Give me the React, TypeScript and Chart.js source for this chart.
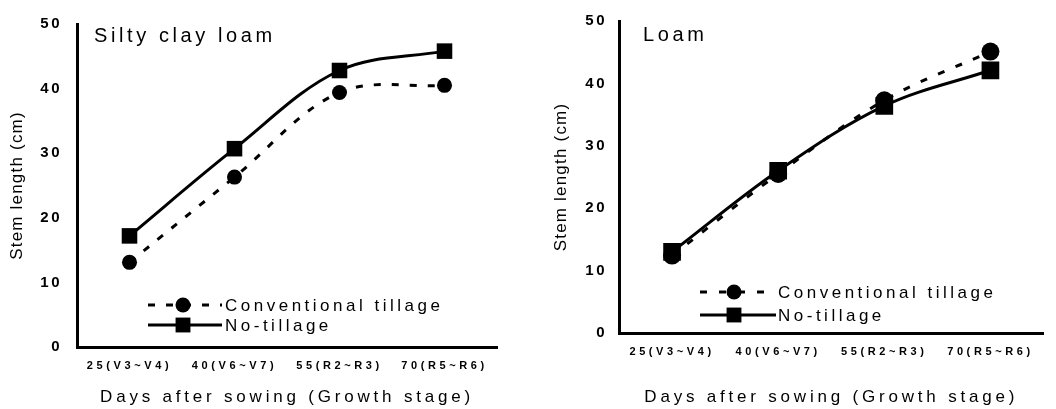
import React, { useEffect, useRef } from 'react';
import { Chart, registerables } from 'chart.js';

Chart.register(...registerables);

// ---------------- data ----------------
const categories = ['25(V3~V4)', '40(V6~V7)', '55(R2~R3)', '70(R5~R6)'];
const seriesNames = ['Conventional tillage', 'No-tillage'];
const siltyConventional = [13.1, 26.3, 39.4, 40.5];
const siltyNoTillage = [17.2, 30.7, 42.8, 45.8];
const loamConventional = [12.4, 25.5, 37.3, 45.1];
const loamNoTillage = [13.0, 26.0, 36.4, 42.1];
const panelTitles = ['Silty clay loam', 'Loam'];
const yMin = 0;
const yMax = 50;
const yStep = 10;
const xTitle = 'Days after sowing (Growth stage)';
const yTitle = 'Stem length (cm)';

const FAMILY = '"Liberation Sans", Arial, sans-serif';

type Panel = {
  title: string;
  conventional: number[];
  noTillage: number[];
  plotLeft: number;
  plotTop: number;
  plotBottom: number;
  padRight: number;
  circleR: number;
  squareR: number;
  dash: number[];
  titleX: number;
  titleY: number;
  legX0: number;
  legX1: number;
  legMark: number;
  legText: number;
  legY: number[];
  yTitlePad: number;
  yTickPad: number;
  xTickPad: number;
};

const panels: Panel[] = [
  {
    title: panelTitles[0],
    conventional: siltyConventional,
    noTillage: siltyNoTillage,
    plotLeft: 77,
    plotTop: 20,
    plotBottom: 347,
    padRight: 31,
    circleR: 7.5,
    squareR: 11,
    dash: [7, 11],
    titleX: 94,
    titleY: 36,
    legX0: 148,
    legX1: 222,
    legMark: 183,
    legText: 225,
    legY: [305, 325],
    yTitlePad: 7,
    yTickPad: 15,
    xTickPad: 12,
  },
  {
    title: panelTitles[1],
    conventional: loamConventional,
    noTillage: loamNoTillage,
    plotLeft: 91,
    plotTop: 15,
    plotBottom: 333,
    padRight: 4,
    circleR: 9,
    squareR: 12.5,
    dash: [7, 12],
    titleX: 115,
    titleY: 35,
    legX0: 172,
    legX1: 248,
    legMark: 206,
    legText: 250,
    legY: [292, 315],
    yTitlePad: 23,
    yTickPad: 12,
    xTickPad: 12,
  },
];

const legendCircleR = 7.5;
const legendSquareR = 10.5;

function patchScale(scale: any, tickSp: string, titleSp: string) {
  if (!scale || scale.__patched) return;
  scale.__patched = true;
  const origLabels = scale.drawLabels;
  scale.drawLabels = function (area: any) {
    const ctx = this.ctx;
    const prev = ctx.letterSpacing;
    ctx.letterSpacing = tickSp;
    origLabels.call(this, area);
    ctx.letterSpacing = prev;
  };
  const origTitle = scale.drawTitle;
  scale.drawTitle = function (area: any) {
    const ctx = this.ctx;
    const prev = ctx.letterSpacing;
    ctx.letterSpacing = titleSp;
    origTitle.call(this, area);
    ctx.letterSpacing = prev;
  };
}

function makeChart(canvas: HTMLCanvasElement, p: Panel) {
  const spacingPlugin = {
    id: 'spacingPatch',
    beforeDraw(chart: any) {
      patchScale(chart.scales.x, '3.6px', '3.8px');
      patchScale(chart.scales.y, '2.5px', '1.2px');
    },
  };
  const annotPlugin = {
    id: 'annot',
    afterDraw(chart: any) {
      const ctx = chart.ctx as CanvasRenderingContext2D;
      ctx.save();
      ctx.fillStyle = '#000';
      ctx.strokeStyle = '#000';
      (ctx as any).letterSpacing = '3.6px';
      ctx.font = `20px ${FAMILY}`;
      ctx.textBaseline = 'middle';
      ctx.textAlign = 'left';
      ctx.fillText(p.title, p.titleX, p.titleY);

      chart.data.datasets.forEach((ds: any, i: number) => {
        const y = p.legY[i];
        ctx.lineWidth = ds.borderWidth;
        ctx.setLineDash(ds.borderDash || []);
        ctx.beginPath();
        ctx.moveTo(p.legX0, y);
        ctx.lineTo(p.legX1, y);
        ctx.stroke();
        ctx.setLineDash([]);
        if (ds.pointStyle === 'rect') {
          const s = legendSquareR * Math.SQRT1_2;
          ctx.fillRect(p.legMark - s, y - s, 2 * s, 2 * s);
        } else {
          ctx.beginPath();
          ctx.arc(p.legMark, y, legendCircleR, 0, Math.PI * 2);
          ctx.fill();
        }
        (ctx as any).letterSpacing = '3.5px';
        ctx.font = `17px ${FAMILY}`;
        ctx.fillText(ds.label, p.legText, y + 1);
      });
      ctx.restore();
    },
  };

  return new Chart(canvas, {
    type: 'line',
    data: {
      labels: categories,
      datasets: [
        {
          label: seriesNames[0],
          data: p.conventional,
          borderColor: '#000',
          backgroundColor: '#000',
          borderWidth: 3,
          borderDash: p.dash,
          pointStyle: 'circle',
          pointRadius: p.circleR,
          pointBorderWidth: 0,
          tension: 0.35,
          fill: false,
        },
        {
          label: seriesNames[1],
          data: p.noTillage,
          borderColor: '#000',
          backgroundColor: '#000',
          borderWidth: 3,
          pointStyle: 'rect',
          pointRadius: p.squareR,
          pointBorderWidth: 0,
          tension: 0.35,
          fill: false,
        },
      ],
    },
    options: {
      responsive: false,
      animation: false,
      devicePixelRatio: 1,
      layout: { padding: { left: 0, right: p.padRight, top: p.plotTop, bottom: 0 } },
      plugins: {
        legend: { display: false },
        tooltip: { enabled: false },
        title: { display: false },
      },
      scales: {
        x: {
          type: 'category',
          offset: true,
          grid: { display: false, drawTicks: false },
          border: { display: true, color: '#000', width: 3 },
          ticks: {
            color: '#000',
            font: { family: FAMILY, size: 11, weight: 'bold' },
            padding: p.xTickPad,
            maxRotation: 0,
            autoSkip: false,
          },
          title: {
            display: true,
            text: xTitle,
            color: '#000',
            font: { family: FAMILY, size: 17 },
            padding: { top: 0, bottom: 1 },
          },
          afterFit: (s: any) => {
            s.height = 409 - p.plotBottom;
          },
        },
        y: {
          min: yMin,
          max: yMax,
          grid: { display: false, drawTicks: false },
          border: { display: true, color: '#000', width: 3 },
          ticks: {
            stepSize: yStep,
            color: '#000',
            font: { family: FAMILY, size: 15, weight: 'bold' },
            padding: p.yTickPad,
          },
          title: {
            display: true,
            text: yTitle,
            color: '#000',
            font: { family: FAMILY, size: 17 },
            padding: { top: p.yTitlePad, bottom: 0 },
          },
          afterFit: (s: any) => {
            s.width = p.plotLeft;
          },
        },
      },
    } as any,
    plugins: [spacingPlugin, annotPlugin],
  });
}

export default function App() {
  const leftRef = useRef<HTMLCanvasElement>(null);
  const rightRef = useRef<HTMLCanvasElement>(null);

  useEffect(() => {
    const charts: Chart[] = [];
    if (leftRef.current) charts.push(makeChart(leftRef.current, panels[0]));
    if (rightRef.current) charts.push(makeChart(rightRef.current, panels[1]));
    return () => charts.forEach((c) => c.destroy());
  }, []);

  return (
    <div
      style={{
        position: 'absolute',
        left: 0,
        top: 0,
        width: 1056,
        height: 409,
        display: 'flex',
        background: '#fff',
      }}
    >
      <canvas ref={leftRef} width={528} height={409} style={{ display: 'block' }} />
      <canvas ref={rightRef} width={528} height={409} style={{ display: 'block' }} />
    </div>
  );
}
